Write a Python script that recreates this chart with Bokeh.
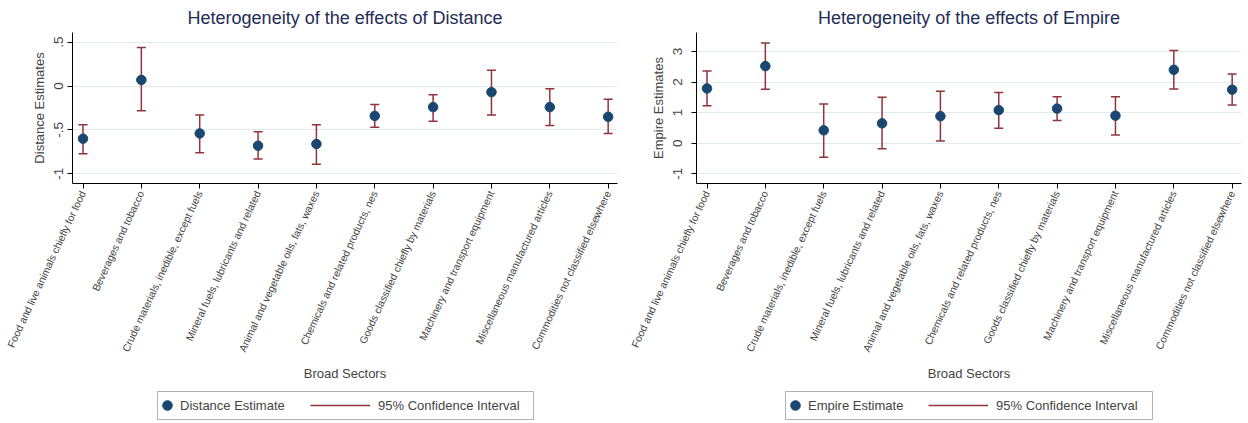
import math
from bokeh.plotting import figure
from bokeh.models import (ColumnDataSource, Legend, LegendItem, BoxAnnotation,
                          FixedTicker, Range1d)
from bokeh.layouts import row, column
from bokeh.embed import file_html
from bokeh.resources import INLINE

sectors = [
    "Food and live animals chiefly for food",
    "Beverages and tobacco",
    "Crude materials, inedible, except fuels",
    "Mineral fuels, lubricants and related",
    "Animal and vegetable oils, fats, waxes",
    "Chemicals and related products, nes",
    "Goods classified chiefly by materials",
    "Machinery and transport equipment",
    "Miscellaneous manufactured articles",
    "Commodities not classified elsewhere",
]

dist_est = [-0.60, 0.07, -0.54, -0.68, -0.66, -0.34, -0.24, -0.07, -0.24, -0.35]
dist_lo = [-0.77, -0.28, -0.76, -0.83, -0.89, -0.47, -0.40, -0.33, -0.45, -0.54]
dist_hi = [-0.44, 0.44, -0.33, -0.52, -0.44, -0.21, -0.10, 0.18, -0.03, -0.15]

emp_est = [1.79, 2.52, 0.42, 0.65, 0.88, 1.08, 1.13, 0.90, 2.40, 1.75]
emp_lo = [1.22, 1.76, -0.46, -0.18, 0.07, 0.49, 0.74, 0.27, 1.77, 1.25]
emp_hi = [2.36, 3.28, 1.28, 1.50, 1.70, 1.66, 1.52, 1.52, 3.03, 2.26]

dist_ticks = [-1, -0.5, 0, 0.5]
dist_tick_labels = ["-1", "-.5", "0", ".5"]
emp_ticks = [-1, 0, 1, 2, 3]
emp_tick_labels = ["-1", "0", "1", "2", "3"]

NAVY = "#1a476f"
MAROON = "#90353b"
TITLE_C = "#1f2d55"
GRID_C = "#e1eaed"
FONT = "Liberation Sans"

MAIN_H = 386
LEG_H = 423 - MAIN_H
FRAME_L = 72
LEG_MID = 405  # vertical centre of the legend row (canvas px)


def draw_marks(p, src):
    seg = p.segment(x0="x", y0="lo", x1="x", y1="hi", source=src,
                    line_color=MAROON, line_width=1.5)
    p.scatter(x="x", y="lo", source=src, marker="dash", size=9,
              line_color=MAROON, line_width=1.5)
    p.scatter(x="x", y="hi", source=src, marker="dash", size=9,
              line_color=MAROON, line_width=1.5)
    pts = p.scatter(x="x", y="est", source=src, marker="circle", size=9.5,
                    fill_color=NAVY, line_color=NAVY)
    return seg, pts


def panel(title, est, lo, hi, ylabel, ticks, tick_labels, yr, est_label,
          dot_x, text_x, ci_x, box, ystand):
    xs = list(range(1, len(sectors) + 1))
    src = ColumnDataSource(dict(x=xs, est=est, lo=lo, hi=hi))
    p = figure(width=624, height=MAIN_H, output_backend="svg", toolbar_location=None,
               x_range=Range1d(0.82, 10.16), y_range=Range1d(*yr),
               min_border_left=FRAME_L, min_border_right=7, min_border_top=32,
               min_border_bottom=MAIN_H - 183)
    p.outline_line_color = None
    p.background_fill_color = "white"
    p.border_fill_color = "white"

    p.title.text = title
    p.title.align = "center"
    p.title.text_font = FONT
    p.title.text_font_size = "18px"
    p.title.text_font_style = "normal"
    p.title.text_color = TITLE_C

    xa = p.xaxis[0]
    xa.ticker = FixedTicker(ticks=xs)
    xa.major_label_overrides = {i + 1: s for i, s in enumerate(sectors)}
    xa.major_label_orientation = math.radians(65)
    xa.major_label_text_font = FONT
    xa.major_label_text_font_size = "10.4px"
    xa.major_label_standoff = 3
    xa.axis_label = "Broad Sectors"
    xa.axis_label_text_font = FONT
    xa.axis_label_text_font_size = "13px"
    xa.axis_label_text_font_style = "normal"
    xa.axis_label_standoff = 7
    xa.minor_tick_line_color = None
    xa.major_tick_in = 0
    xa.major_tick_out = 5
    xa.axis_line_color = "black"
    xa.major_tick_line_color = "black"

    ya = p.yaxis[0]
    ya.ticker = FixedTicker(ticks=ticks)
    ya.major_label_overrides = {t: l for t, l in zip(ticks, tick_labels)}
    ya.major_label_orientation = "vertical"
    ya.major_label_text_font = FONT
    ya.major_label_text_font_size = "13.5px"
    ya.major_label_standoff = ystand
    ya.axis_label = ylabel
    ya.axis_label_text_font = FONT
    ya.axis_label_text_font_size = "13px"
    ya.axis_label_text_font_style = "normal"
    ya.axis_label_standoff = 5
    ya.minor_tick_line_color = None
    ya.major_tick_in = 0
    ya.major_tick_out = 5
    ya.axis_line_color = "black"
    ya.major_tick_line_color = "black"

    p.xgrid.visible = False
    p.ygrid.ticker = FixedTicker(ticks=ticks)
    p.ygrid.grid_line_color = GRID_C
    p.ygrid.grid_line_width = 1.2

    draw_marks(p, src)

    # legend strip: same marks drawn off-range so only the legend shows
    lg = figure(width=624, height=LEG_H, output_backend="svg", toolbar_location=None,
                x_range=Range1d(0.82, 10.16), y_range=Range1d(1000, 1001),
                x_axis_type=None, y_axis_type=None,
                min_border=0, min_border_left=0, min_border_right=0,
                min_border_top=0, min_border_bottom=0)
    lg.outline_line_color = None
    lg.grid.visible = False
    seg, pts = draw_marks(lg, src)

    common = dict(padding=5, border_line_alpha=0, background_fill_alpha=0,
                  label_text_font=FONT, label_text_font_size="13px", margin=0)

    g1 = 24
    leg1_left = dot_x - g1 / 2 - 5
    leg1 = Legend(items=[LegendItem(label=est_label, renderers=[pts])],
                  location=(leg1_left - FRAME_L, LEG_H - (LEG_MID + g1 / 2 + 5 - MAIN_H)),
                  glyph_width=g1, glyph_height=g1, label_height=g1,
                  label_standoff=int(text_x - (dot_x + g1 / 2)), **common)
    g2 = 18
    leg2 = Legend(items=[LegendItem(label="95% Confidence Interval", renderers=[seg])],
                  location=(ci_x - 5 - FRAME_L, LEG_H - (LEG_MID + g2 / 2 + 5 - MAIN_H)),
                  glyph_width=60, glyph_height=g2, label_height=g2,
                  label_standoff=8, **common)
    lg.add_layout(leg1)
    lg.add_layout(leg2)
    lg.add_layout(BoxAnnotation(left=box[0], right=box[1], top=391 - MAIN_H,
                                bottom=419 - MAIN_H,
                                left_units="canvas", right_units="canvas",
                                top_units="canvas", bottom_units="canvas",
                                fill_alpha=0, line_color="black", line_width=1))
    return column(p, lg, spacing=0)


c1 = panel("Heterogeneity of the effects of Distance", dist_est, dist_lo, dist_hi,
           "Distance Estimates", dist_ticks, dist_tick_labels, (-1.11, 0.61),
           "Distance Estimate", 167, 180, 310, (157, 533), 4)
c2 = panel("Heterogeneity of the effects of Empire", emp_est, emp_lo, emp_hi,
           "Empire Estimates", emp_ticks, emp_tick_labels, (-1.32, 3.62),
           "Empire Estimate", 171, 184, 304, (161, 528), 9)

layout = row(c1, c2, spacing=0)
open("out.html", "w").write(file_html(layout, INLINE))
